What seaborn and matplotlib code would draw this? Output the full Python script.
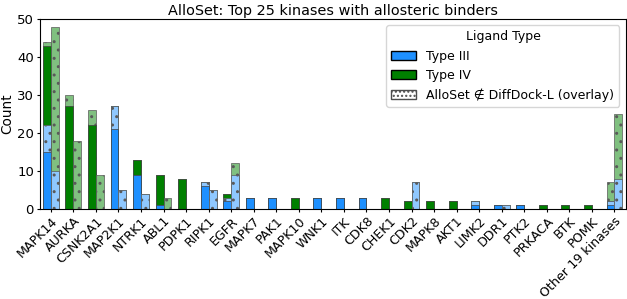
import pandas as pd
import matplotlib
matplotlib.use("Agg")
import matplotlib.pyplot as plt
from matplotlib.colors import to_rgb
from matplotlib.patches import Patch
import seaborn as sns

# Data
kinases = ["MAPK14", "AURKA", "CSNK2A1", "MAP2K1", "NTRK1", "ABL1", "PDPK1",
           "RIPK1", "EGFR", "MAPK7", "PAK1", "MAPK10", "WNK1", "ITK", "CDK8",
           "CHEK1", "CDK2", "MAPK8", "AKT1", "LIMK2", "DDR1", "PTK2", "PRKACA",
           "BTK", "POMK", "Other 19 kinases"]

# left bar: AlloSet, split into solid part and overlay part per ligand type
type3_solid   = [15, 0, 0, 21, 9, 1, 0, 6, 2, 3, 3, 0, 3, 3, 3, 0, 0, 0, 0, 1, 1, 1, 0, 0, 0, 1]
type3_overlay = [7, 0, 0, 6, 0, 0, 0, 1, 1, 0, 0, 0, 0, 0, 0, 0, 0, 0, 0, 1, 0, 0, 0, 0, 0, 1]
type4_solid   = [21, 27, 22, 0, 4, 8, 8, 0, 1, 0, 0, 3, 0, 0, 0, 3, 2, 2, 2, 0, 0, 0, 1, 1, 1, 0]
type4_overlay = [1, 3, 4, 0, 0, 0, 0, 0, 0, 0, 0, 0, 0, 0, 0, 0, 0, 0, 0, 0, 0, 0, 0, 0, 0, 5]

# right bar: drawn entirely as overlay
right_type3 = [10, 0, 0, 5, 4, 0, 0, 5, 9, 0, 0, 0, 0, 0, 0, 0, 7, 0, 0, 0, 1, 0, 0, 0, 0, 8]
right_type4 = [38, 18, 9, 0, 0, 3, 0, 0, 3, 0, 0, 0, 0, 0, 0, 0, 0, 0, 0, 0, 0, 0, 0, 0, 0, 17]

BLUE = "#1E90FF"
GREEN = "#008000"


def lighten(c, amount=0.5):
    r, g, b = to_rgb(c)
    return (1 - amount * (1 - r), 1 - amount * (1 - g), 1 - amount * (1 - b))


LIGHT_BLUE = lighten(BLUE)
LIGHT_GREEN = lighten(GREEN)
SIDES = ["left", "right"]


def stack(*parts):
    return [sum(v) for v in zip(*parts)]


# layers drawn from the tallest cumulative height down
layers = [
    ("left", stack(type3_solid, type3_overlay, type4_solid, type4_overlay), LIGHT_GREEN, True),
    ("left", stack(type3_solid, type3_overlay, type4_solid), GREEN, False),
    ("left", stack(type3_solid, type3_overlay), LIGHT_BLUE, True),
    ("left", type3_solid, BLUE, False),
    ("right", stack(right_type3, right_type4), LIGHT_GREEN, True),
    ("right", right_type3, LIGHT_BLUE, True),
]

plt.rcParams["font.size"] = 9
plt.rcParams["hatch.linewidth"] = 1.0
plt.rcParams["xtick.major.size"] = 2.5
plt.rcParams["ytick.major.size"] = 2.5
plt.rcParams["xtick.major.pad"] = 1.5
plt.rcParams["ytick.major.pad"] = 1.5

fig, ax = plt.subplots(figsize=(6.27, 2.99), dpi=100)

for side, tops, color, hatched in layers:
    df = pd.DataFrame({"kinase": kinases, "count": tops, "side": side})
    df = df[df["count"] > 0]
    sns.barplot(
        data=df, x="kinase", y="count", hue="side", hue_order=SIDES,
        order=kinases, dodge=True, width=0.7, saturation=1,
        palette={s: color for s in SIDES}, errorbar=None, legend=False,
        edgecolor="0.35" if hatched else "0.25",
        linewidth=0.5, hatch=".." if hatched else None, ax=ax,
    )

ax.set_ylim(0, 50)
ax.set_yticks(range(0, 51, 10))
ax.tick_params(axis="y", labelsize=9.5)
ax.tick_params(axis="x", labelsize=9.1)
ax.set_xlabel("")
ax.set_ylabel("Count", fontsize=9.8, labelpad=2)
ax.set_title("AlloSet: Top 25 kinases with allosteric binders", fontsize=10.4, pad=3)
plt.setp(ax.get_xticklabels(), rotation=45, ha="right", rotation_mode="anchor")

handles = [
    Patch(facecolor=BLUE, edgecolor="black", label="Type III"),
    Patch(facecolor=GREEN, edgecolor="black", label="Type IV"),
    Patch(facecolor="white", edgecolor="0.3", hatch="....",
          label="AlloSet \u2209 DiffDock-L (overlay)"),
]
ax.legend(handles=handles, title="Ligand Type", loc="upper right")

fig.subplots_adjust(left=0.063, right=0.998, top=0.936, bottom=0.301)
fig.savefig("out.png", dpi=100)
